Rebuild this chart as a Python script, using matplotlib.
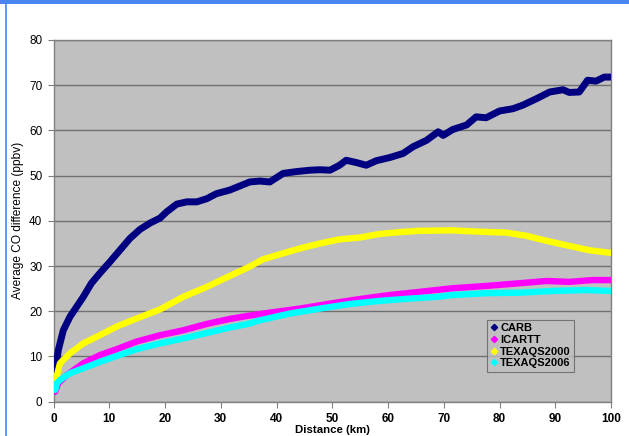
import matplotlib
matplotlib.use("Agg")
import matplotlib.pyplot as plt
from matplotlib.lines import Line2D
from matplotlib.patches import Rectangle

plt.rcParams['font.family'] = ['Liberation Sans', 'DejaVu Sans']

# Average CO difference (ppbv) versus distance (km) for each campaign
carb_km = [0.27, 0.86, 1.76, 2.96, 4.15, 5.35, 6.8, 8.3, 10.1, 11.9, 13.7, 15.5, 17.3,
           19.1, 20.3, 22.1, 23.9, 25.7, 27.5, 29.2, 31.6, 33.4, 35.2, 37.0, 38.8,
           41.2, 43.6, 46.0, 47.8, 49.6, 51.3, 52.5, 54.3, 56.1, 57.9, 60.3, 62.7,
           64.5, 66.9, 69.0, 69.9, 71.6, 74.1, 75.8, 77.6, 80.0, 82.4, 84.2, 86.6,
           89.0, 91.4, 92.5, 94.3, 95.8, 97.3, 98.8, 100.0]
carb_co = [6.4, 11.4, 15.8, 18.8, 21.0, 23.2, 26.2, 28.4, 30.9, 33.5, 36.1, 38.1, 39.5,
           40.6, 42.0, 43.7, 44.2, 44.2, 44.9, 46.0, 46.8, 47.7, 48.6, 48.8, 48.6,
           50.5, 50.9, 51.2, 51.3, 51.2, 52.3, 53.4, 52.9, 52.3, 53.3, 54.0, 54.9,
           56.4, 57.8, 59.7, 58.9, 60.2, 61.2, 63.0, 62.8, 64.3, 64.8, 65.6, 67.0,
           68.5, 69.0, 68.4, 68.5, 71.1, 70.9, 71.8, 71.8]

icartt_km = [0.27, 0.86, 2.4, 5.35, 8.3, 11.3, 14.9, 19.1, 23.3, 27.5, 31.6, 34.9,
             38.8, 44.2, 49.6, 54.9, 60.3, 65.7, 71.6, 77.6, 83.6, 88.4, 92.5, 96.7, 100.0]
icartt_co = [2.2, 4.1, 5.9, 8.5, 10.3, 11.6, 13.3, 14.7, 15.8, 17.2, 18.3, 19.0,
             19.7, 20.6, 21.7, 22.7, 23.6, 24.3, 25.1, 25.6, 26.2, 26.7, 26.5, 26.9, 26.9]

tx2000_km = [0.27, 1.16, 2.96, 5.35, 8.3, 11.3, 14.9, 19.1, 23.3, 27.5, 31.6, 34.9,
             37.6, 40.6, 44.2, 47.8, 51.3, 54.9, 58.5, 62.1, 65.7, 71.6, 76.4, 81.2,
             84.8, 88.4, 92.0, 96.1, 100.0]
tx2000_co = [4.1, 8.5, 10.7, 12.9, 14.7, 16.6, 18.4, 20.4, 23.2, 25.4, 27.8, 29.7,
             31.5, 32.6, 33.9, 35.0, 35.9, 36.3, 37.1, 37.5, 37.8, 37.9, 37.6, 37.4,
             36.7, 35.6, 34.6, 33.5, 32.9]

tx2006_km = [0.1, 0.3, 0.6, 1.16, 2.96, 5.35, 8.3, 11.3, 14.9, 19.1, 23.3, 27.5, 31.6,
             34.9, 37.0, 42.4, 47.8, 53.1, 58.5, 63.9, 69.0, 71.6, 77.6, 83.6, 89.6,
             95.6, 100.0]
tx2006_co = [3.8, 2.6, 4.0, 4.8, 6.3, 7.4, 8.8, 10.1, 11.6, 12.9, 14.0, 15.2, 16.4,
             17.2, 18.0, 19.5, 20.6, 21.6, 22.3, 22.8, 23.2, 23.6, 24.0, 24.1, 24.5,
             24.7, 24.5]

series_names = ['CARB', 'ICARTT', 'TEXAQS2000', 'TEXAQS2006']
series_colors = ['#000080', '#FF00FF', '#FFFF00', '#00FFFF']

x_ticks = list(range(0, 101, 10))
y_ticks = list(range(0, 81, 10))

W, H = 629, 436
fig = plt.figure(figsize=(W / 100, H / 100), dpi=100)
fig.patch.set_facecolor('white')

# Window frame accents
fig.patches.append(Rectangle((0, 1 - 4 / H), 1, 4 / H, transform=fig.transFigure,
                             facecolor='#4A86F0', edgecolor='none', zorder=0))
fig.lines.append(Line2D([6.5 / W, 6.5 / W], [0, 1 - 4 / H], transform=fig.transFigure,
                        color='#4A86F0', lw=1.2))

ax = fig.add_axes([53.5 / W, 1 - 401.7 / H, (611 - 53.5) / W, (401.7 - 40) / H])
ax.set_facecolor('#C0C0C0')

xs = [carb_km, icartt_km, tx2000_km, tx2006_km]
ys = [carb_co, icartt_co, tx2000_co, tx2006_co]
widths = [5.0, 4.6, 4.6, 4.6]
order = [3, 1, 2, 0]
for i in order:
    ax.plot(xs[i], ys[i], color=series_colors[i], lw=widths[i],
            solid_joinstyle='round', solid_capstyle='round', zorder=3 + i)

ax.set_xlim(0, 100)
ax.set_ylim(0, 80)
ax.set_xticks(x_ticks)
ax.set_yticks(y_ticks)
ax.set_xticklabels([str(v) for v in x_ticks], fontsize=8.5, fontweight='bold')
ax.set_yticklabels([str(v) for v in y_ticks], fontsize=8.5)
ax.tick_params(axis='both', direction='out', length=4, width=0.8, color='#808080', pad=4)
ax.tick_params(axis='x', pad=4)
ax.grid(axis='y', color='#707070', lw=1.0)
ax.set_axisbelow(True)
for s in ax.spines.values():
    s.set_color('#808080')
    s.set_linewidth(1.0)

ax.set_xlabel('Distance (km)', fontsize=8.2, fontweight='bold')
ax.xaxis.set_label_coords(0.5, -(424.5 - 401.7) / (401.7 - 40))
ax.set_ylabel('Average CO difference (ppbv)', fontsize=8.6, va='center')
ax.yaxis.set_label_coords(-(53.5 - 18.5) / (611 - 53.5), 0.5)

handles = [Line2D([], [], ls='none', marker='D', markersize=3.2, color=c,
                  markeredgecolor=c) for c in series_colors]
leg = ax.legend(handles, series_names, loc='upper left',
                bbox_to_anchor=(487 / W, 1 - 320 / H), bbox_transform=fig.transFigure,
                prop={'size': 8, 'weight': 'bold'}, frameon=True, fancybox=False,
                handlelength=0.6, handletextpad=0.3, borderpad=0.3, labelspacing=0.15,
                borderaxespad=0)
leg.get_frame().set_facecolor('#C0C0C0')
leg.get_frame().set_edgecolor('#606060')
leg.get_frame().set_linewidth(0.8)

fig.savefig('out.png', dpi=100)
